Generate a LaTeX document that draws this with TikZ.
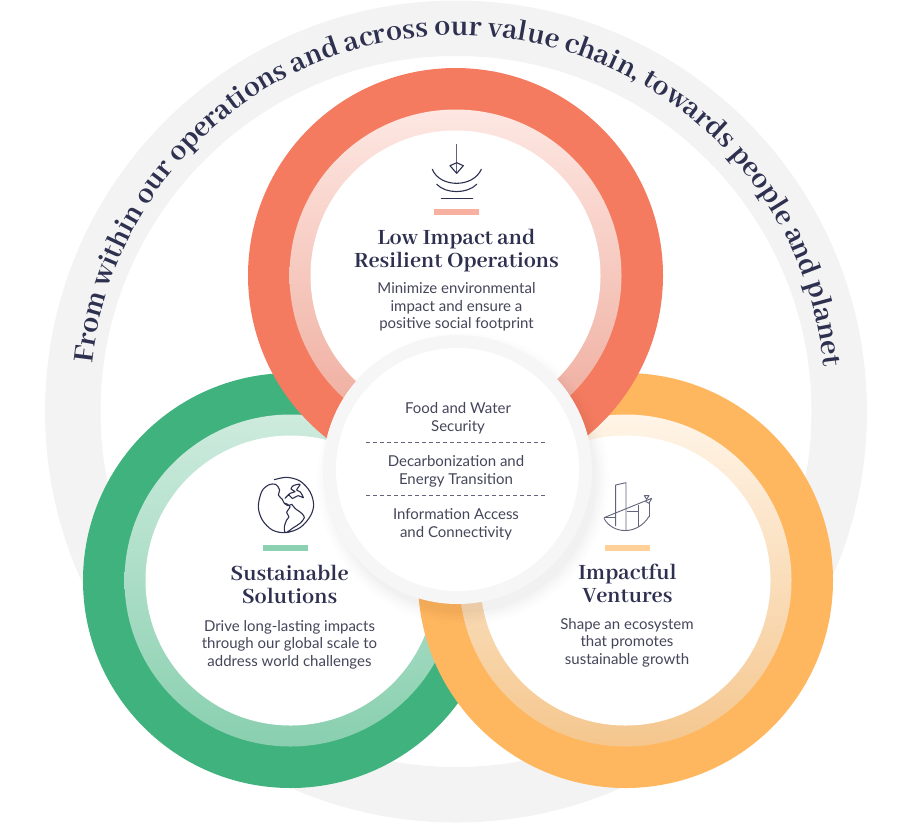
\documentclass[tikz,border=0pt]{standalone}
\usepackage{fontspec}
\usetikzlibrary{decorations.text}
\setmainfont{Lato}
\newfontfamily\titlefont{Abhaya Libre}[BoldFont=* Bold]
\definecolor{ink}{HTML}{2E3050}
\definecolor{bodyc}{HTML}{45465A}
\definecolor{ringgray}{HTML}{F3F3F3}
\definecolor{centergray}{HTML}{F6F6F6}
\definecolor{redc}{HTML}{F47B60}
\definecolor{greenc}{HTML}{40B27E}
\definecolor{orangec}{HTML}{FFB75F}
\tikzset{
  titletext/.style={font=\titlefont\bfseries\fontsize{24}{23}\selectfont,text=ink,align=center,inner sep=0pt},
  bodytext/.style={font=\fontsize{15}{17.5}\selectfont,text=bodyc,align=center,inner sep=0pt},
  centertext/.style={font=\fontsize{15}{18}\selectfont,text=bodyc,align=center,inner sep=0pt},
  icon/.style={draw=ink,line width=1.1pt,line join=round,line cap=round,fill=none},
  iconthin/.style={draw=ink!75,line width=0.9pt,line join=round,fill=none},
  bar/.style={draw=none,inner sep=0pt,minimum width=45pt,minimum height=6pt}
}
\begin{document}
\begin{tikzpicture}[x=1pt,y=-1pt]
\useasboundingbox (0,0) rectangle (917,823);
% outer ring
\fill[ringgray,even odd rule] (456,411.5) circle (411pt) (456,411.5) circle (355.5pt);
% curved text
\path[postaction={decorate},decoration={text along path,text color=ink,
  text={|\titlefont\bfseries\fontsize{31.8}{33}\selectfont|From within our operations and across our value chain, towards people and planet},
  text align=center}]
  plot[domain=173.5:6,samples=120] ({458+368*cos(\x)},{403-368*sin(\x)});
% green
\fill[greenc] (290.5,580.5) circle (207.5pt);
\shade[top color=greenc!26!white,bottom color=greenc!62!white] (290.5,580.5) circle (166pt);
\fill[white] (290.5,580.5) circle (145pt);
% orange
\fill[orangec] (625.5,580.5) circle (207.5pt);
\shade[shading angle=-35,top color=orangec!15!white,bottom color=orangec!70!white!92!gray] (625.5,580.5) circle (166pt);
\fill[white] (625.5,580.5) circle (145pt);
% red
\fill[redc] (455.5,275.5) circle (207.5pt);
\shade[top color=redc!18!white,bottom color=redc!62!white!92!gray] (455.5,275.5) circle (166pt);
\fill[white] (455.5,275.5) circle (145pt);
% center shadow
\foreach \r/\o in {146/0.006,143/0.008,140/0.010,137/0.012,134/0.015}{
  \fill[black,opacity=\o] (463,479) circle (\r pt);
}
\fill[centergray] (457.5,469.5) circle (134.5pt);
\fill[white] (457.5,469.5) circle (121.5pt);
% dashes
\coordinate (d1a) at (366,442.5); \coordinate (d1b) at (547,442.5);
\coordinate (d2a) at (366,495); \coordinate (d2b) at (547,495);
\draw[ink!75,line width=0.6pt,dash pattern=on 4pt off 3pt] (d1a) -- (d1b);
\draw[ink!75,line width=0.6pt,dash pattern=on 4pt off 3pt] (d2a) -- (d2b);
% center text
\node[centertext] (c1) at (458,418) {Food and Water\\Security};
\node[centertext] (c2) at (456,471) {Decarbonization and\\Energy Transition};
\node[centertext] (c3) at (456,524) {Information Access\\and Connectivity};
% red panel
\node[bar,fill=redc!60!white] (barr) at (456.5,212) {};
\node[titletext] (tr) at (456.5,250.5) {Low Impact and\\Resilient Operations};
\node[bodytext] (br) at (456.5,307) {Minimize environmental\\impact and ensure a\\positive social footprint};
% green panel
\node[bar,fill=greenc!60!white] (barg) at (285.5,548) {};
\node[titletext] (tg) at (289.5,584.5) {Sustainable\\Solutions};
\node[bodytext] (bg) at (289.5,644.5) {Drive long-lasting impacts\\through our global scale to\\address world challenges};
% orange panel
\node[bar,fill=orangec!65!white] (baro) at (627.5,548) {};
\node[titletext] (to) at (627.5,583.5) {Impactful\\Ventures};
\node[bodytext] (bo) at (627,642.5) {Shape an ecosystem\\that promotes\\sustainable growth};
% red icon
\draw[iconthin] (456.7,144) -- (456.7,173.3);
\draw[icon] (450,165.7) -- (456.7,162.7) -- (463.3,165.7) -- (456.7,173.3) -- cycle;
\draw[icon] (432.3,169.3) .. controls (440,188) and (473,188) .. (481.3,169.3);
\draw[icon] (436.7,184.3) .. controls (446,194) and (467,194) .. (476.7,184.3);
\draw[icon] (441.3,198.7) -- (472.7,198.7);
% globe icon
\begin{scope}[shift={(245,465)},x=0.3333pt,y=-0.3333pt]
\draw[icon] plot[smooth,tension=0.55] coordinates {(88,44) (125,37) (165,48) (195,80) (206,120) (195,155) (165,188) (122,203) (82,195) (52,165) (40,125) (50,80) (70,60) (92,58) (104,75) (100,90) (112,103) (118,115) (130,122) (140,118) (150,130) (170,145) (178,158) (165,175) (145,188) (122,203) (118,185) (125,165) (132,155) (125,142) (135,125) (122,115)};
\draw[icon] plot[smooth,tension=0.5] coordinates {(120,100) (132,90) (142,100) (160,92) (175,98) (165,80) (155,75) (165,58) (145,62) (138,72) (150,80) (135,85) (120,100)};
\end{scope}
% chart icon
\begin{scope}[shift={(590,470)},x=0.3333pt,y=-0.3333pt]
\draw[iconthin] (77,168) -- (77,45) -- (108,38) -- (108,183);
\draw[iconthin] (42,143) -- (185,85) -- (177,100) -- (165,93);
\draw[iconthin] (42,143) -- (77,143);
\draw[iconthin] (110,125) -- (145,125);
\draw[iconthin] (145,105) -- (145,172);
\draw[iconthin] (177,100) -- (177,140);
\draw[iconthin] (163,77) -- (177,77) -- (170,88) -- cycle;
\draw[iconthin] (42,145) .. controls (65,190) and (140,200) .. (178,138);
\end{scope}
\end{tikzpicture}
\end{document}
